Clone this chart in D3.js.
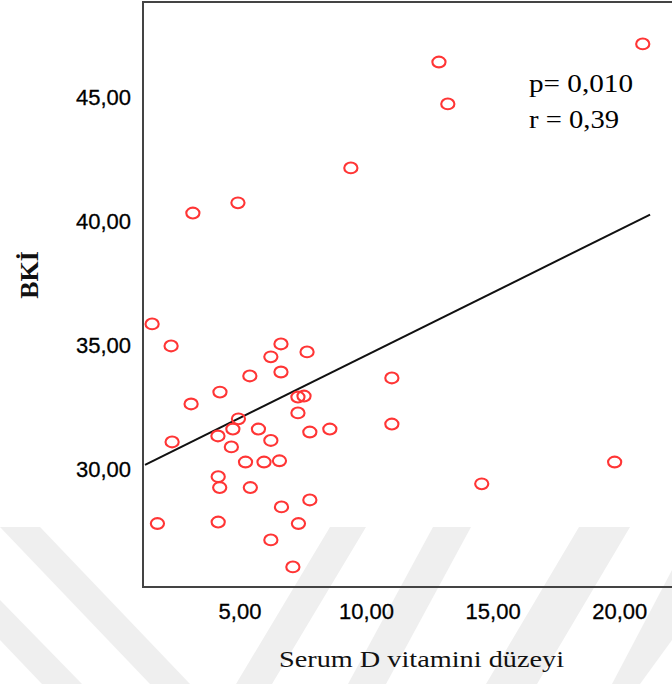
<!DOCTYPE html>
<html>
<head>
<meta charset="utf-8">
<script src="https://cdn.jsdelivr.net/npm/d3@7"></script>
<style>
  body { margin: 0; background: #fff; }
  svg { display: block; }
</style>
</head>
<body>
<div id="chart"></div>
<script>
// serum D vitamini (x) / BKİ (y)
const vitD = [20.91, 12.86, 13.21, 9.38, 3.14, 4.92, 1.53, 2.28, 6.62, 6.22,
              7.65, 6.62, 5.39, 4.21, 3.07, 7.29, 7.53, 7.29, 4.94, 4.72,
              4.13, 5.73, 6.22, 7.76, 8.55, 2.32, 4.66, 5.22, 5.95, 6.56,
              4.14, 4.20, 5.41, 7.76, 6.64, 1.74, 4.14, 7.31, 6.22, 7.09,
              11.00, 11.00, 19.80, 14.55];
const bki  = [47.14, 46.41, 44.72, 42.14, 40.32, 40.73, 35.85, 34.96, 35.04, 34.52,
              34.72, 33.91, 33.75, 33.10, 32.62, 32.90, 32.94, 32.26, 32.02, 31.61,
              31.33, 31.61, 31.15, 31.49, 31.61, 31.09, 30.89, 30.28, 30.28, 30.33,
              29.69, 29.25, 29.25, 28.75, 28.47, 27.80, 27.86, 27.80, 27.14, 26.05,
              33.67, 31.81, 30.28, 29.40];

const xTicks = [5, 10, 15, 20];
const yTicks = [30, 35, 40, 45];
const xDomain = [1.17, 22.5];
const yDomain = [25.24, 48.83];

// fit line
const fitIntercept = 29.53;
const fitSlope = 0.506;
const fitRange = [1.25, 21.2];

const statLines = ["p= 0,010", "r = 0,39"];

const canvas = { w: 672, h: 684 };
const plot = { left: 143, right: 683, top: 2, bottom: 587 };

const points = vitD.map((v, i) => ({ x: v, y: bki[i] }));
const comma = v => d3.format(".2f")(v).replace(".", ",");

const x = d3.scaleLinear().domain(xDomain).range([plot.left, plot.right]);
const y = d3.scaleLinear().domain(yDomain).range([plot.bottom, plot.top]);

const svg = d3.select("#chart")
    .append("svg")
    .attr("width", canvas.w)
    .attr("height", canvas.h)
    .attr("viewBox", `0 0 ${canvas.w} ${canvas.h}`);

// faint watermark behind everything
const marks = [
    [[0, 527], [40, 527], [190, 684], [150, 684]],
    [[330, 527], [366, 527], [272, 684], [236, 684]],
    [[433, 527], [471, 527], [386, 684], [348, 684]],
    [[579, 527], [630, 527], [537, 684], [486, 684]],
    [[0, 600], [0, 640], [42, 684], [82, 684]],
    [[672, 570], [672, 640], [640, 684], [612, 684]]
];
svg.append("g")
    .selectAll("polygon")
    .data(marks)
    .join("polygon")
    .attr("points", d => d.map(p => p.join(",")).join(" "))
    .attr("fill", "#efefef");

// frame
svg.append("rect")
    .attr("x", plot.left)
    .attr("y", plot.top)
    .attr("width", plot.right - plot.left + 20)
    .attr("height", plot.bottom - plot.top)
    .attr("fill", "none")
    .attr("stroke", "#444")
    .attr("stroke-width", 2);

// y axis labels
svg.append("g")
    .selectAll("text")
    .data(yTicks)
    .join("text")
    .attr("x", plot.left - 12)
    .attr("y", d => y(d))
    .attr("dy", "0.36em")
    .attr("text-anchor", "end")
    .attr("font-family", "'Liberation Sans', Arial, sans-serif")
    .attr("font-size", 22)
    .attr("fill", "#000")
    .attr("stroke", "#000")
    .attr("stroke-width", 0.3)
    .text(comma);

// x axis labels
svg.append("g")
    .selectAll("text")
    .data(xTicks)
    .join("text")
    .attr("x", d => x(d))
    .attr("y", 619)
    .attr("text-anchor", "middle")
    .attr("font-family", "'Liberation Sans', Arial, sans-serif")
    .attr("font-size", 22)
    .attr("fill", "#000")
    .attr("stroke", "#000")
    .attr("stroke-width", 0.3)
    .text(comma);

// axis titles
svg.append("text")
    .attr("transform", "translate(38,275) rotate(-90)")
    .attr("text-anchor", "middle")
    .attr("font-family", "'Liberation Serif', 'Times New Roman', serif")
    .attr("font-size", 26)
    .attr("font-weight", "bold")
    .attr("fill", "#111")
    .text("BKİ");

svg.append("text")
    .attr("x", 279)
    .attr("y", 667)
    .attr("textLength", 285)
    .attr("lengthAdjust", "spacingAndGlyphs")
    .attr("font-family", "'Liberation Serif', 'Times New Roman', serif")
    .attr("font-size", 24)
    .attr("fill", "#111")
    .text("Serum D vitamini düzeyi");

// regression line
const fit = fitRange.map(v => [v, fitIntercept + fitSlope * v]);
svg.append("path")
    .datum(fit)
    .attr("d", d3.line().x(d => x(d[0])).y(d => y(d[1])))
    .attr("fill", "none")
    .attr("stroke", "#111")
    .attr("stroke-width", 2);

// points
svg.append("g")
    .selectAll("ellipse")
    .data(points)
    .join("ellipse")
    .attr("cx", d => x(d.x))
    .attr("cy", d => y(d.y))
    .attr("rx", 6.6)
    .attr("ry", 5.4)
    .attr("fill", "none")
    .attr("stroke", "#ff3535")
    .attr("stroke-width", 2.1);

// stats text
svg.append("g")
    .selectAll("text")
    .data(statLines)
    .join("text")
    .attr("x", 529)
    .attr("y", (d, i) => 92 + i * 36)
    .attr("textLength", (d, i) => i ? 90 : 104)
    .attr("lengthAdjust", "spacingAndGlyphs")
    .attr("font-family", "'Liberation Serif', 'Times New Roman', serif")
    .attr("font-size", 26)
    .attr("fill", "#000")
    .text(d => d);
</script>
</body>
</html>
